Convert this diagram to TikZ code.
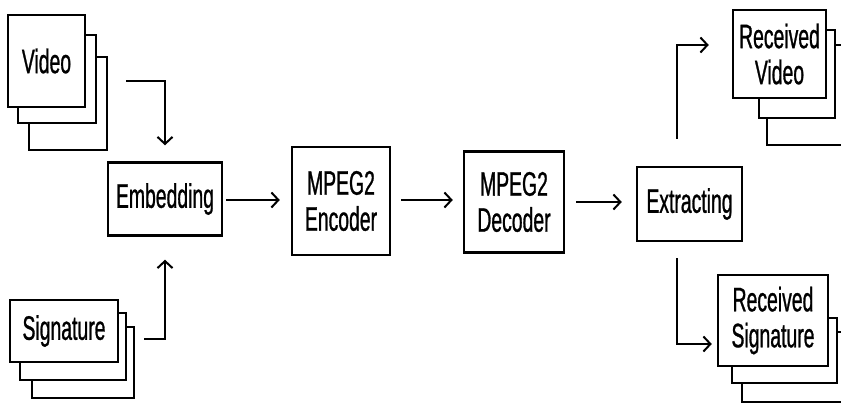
\documentclass[tikz,border=0pt]{standalone}
\usepackage{fontspec}
\setmainfont{Liberation Sans}[FakeStretch=0.57,FakeBold=0.8]
\usetikzlibrary{arrows.meta}
\begin{document}
\begin{tikzpicture}[x=1pt,y=-1pt,
  pg/.style={draw, fill=white, line width=2.4pt, inner sep=0pt, align=center,
    font=\fontsize{34}{36}\selectfont},
  arr/.style={line width=2pt, -{Straight Barb[length=7pt,width=15pt,line width=2pt]}}]
\clip (0,0) rectangle (841,403);
\fill[white] (0,0) rectangle (841,403);
% Video stack
\node[pg, minimum width=78pt, minimum height=93pt] (v3) at (68,103.5) {};
\node[pg, minimum width=78pt, minimum height=88pt] (v2) at (57,79) {};
\node[pg, minimum width=77pt, minimum height=92pt] (v1) at (46.5,61) {Video};
% Signature stack
\node[pg, minimum width=102pt, minimum height=71pt] (s3) at (83,362.5) {};
\node[pg, minimum width=106pt, minimum height=67pt] (s2) at (73,346.5) {};
\node[pg, minimum width=108pt, minimum height=62pt] (s1) at (64,331) {Signature};
% Main chain
\node[pg, minimum width=114pt, minimum height=73pt] (emb) at (165,199) {Embedding};
\node[pg, minimum width=98pt, minimum height=108pt] (enc) at (341,201) {MPEG2\\Encoder};
\node[pg, minimum width=100pt, minimum height=101pt] (dec) at (514,202) {MPEG2\\Decoder};
\node[pg, minimum width=105pt, minimum height=74pt] (ext) at (689.5,204) {Extracting};
% Received video stack
\node[pg, minimum width=90pt, minimum height=100pt] (rv3) at (812,95) {};
\node[pg, minimum width=76pt, minimum height=88pt] (rv2) at (797,74) {};
\node[pg, minimum width=93pt, minimum height=88pt] (rv1) at (779.5,54) {Received\\Video};
% Received signature stack
\node[pg, minimum width=108pt, minimum height=70pt] (rs3) at (796,367) {};
\node[pg, minimum width=105pt, minimum height=65pt] (rs2) at (784.5,350.5) {};
\node[pg, minimum width=110pt, minimum height=91pt] (rs1) at (773,320.5) {Received\\Signature};
% Connectors
\draw[arr, shorten <=18pt, shorten >=16pt] (v3.east |- 0,81) -| (emb.north);
\draw[arr, shorten <=9pt, shorten >=23pt] (s3.east |- 0,339) -| (emb.south);
\draw[arr, shorten <=3pt, shorten >=11pt] (emb.east |- 0,200) -- (enc.west |- 0,200);
\draw[arr, shorten <=10pt, shorten >=10pt] (enc.east |- 0,200) -- (dec.west |- 0,200);
\draw[arr, shorten <=11pt, shorten >=14pt] (dec.east |- 0,202) -- (ext.west |- 0,202);
\draw[arr, shorten <=27pt, shorten >=23pt] (ext.north -| 677,0) |- (rv1.west |- 0,45);
\draw[arr, shorten <=16pt, shorten >=5pt] (ext.south -| 677,0) |- (rs1.west |- 0,344);
\end{tikzpicture}
\end{document}
